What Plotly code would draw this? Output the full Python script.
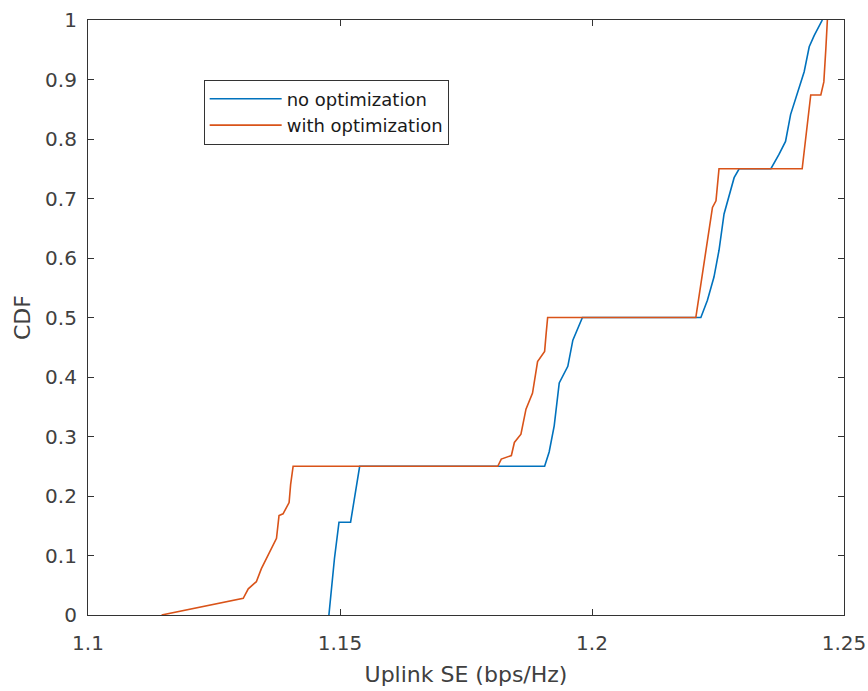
import plotly.graph_objects as go

# no optimization
x_no = [1.1478, 1.1489, 1.1498, 1.1521, 1.1539, 1.1906, 1.1915, 1.1925, 1.1935, 1.1952,
        1.1962, 1.1981, 1.2216, 1.2229, 1.2242, 1.2252, 1.2262, 1.2272, 1.2282, 1.2292,
        1.2355, 1.2371, 1.2384, 1.2394, 1.2404, 1.2421, 1.2431, 1.2441, 1.2457]
y_no = [0.0, 0.095, 0.156, 0.156, 0.25, 0.25, 0.274, 0.318, 0.39, 0.418,
        0.462, 0.5, 0.5, 0.529, 0.568, 0.613, 0.674, 0.707, 0.735, 0.75,
        0.75, 0.774, 0.796, 0.841, 0.869, 0.913, 0.955, 0.974, 1.0]

# with optimization
x_opt = [1.1146, 1.1308, 1.1318, 1.1334, 1.1344, 1.1374, 1.1379, 1.1387, 1.1399, 1.1402,
         1.1407, 1.1813, 1.1820, 1.1840, 1.1846, 1.1859, 1.1869, 1.1882, 1.1892, 1.1906,
         1.1909, 1.1912, 1.2206, 1.2223, 1.2229, 1.2239, 1.2246, 1.2252, 1.2417, 1.2424,
         1.2434, 1.2454, 1.2460, 1.2464, 1.2467]
y_opt = [0.0, 0.028, 0.044, 0.056, 0.078, 0.129, 0.167, 0.170, 0.189, 0.219,
         0.25, 0.25, 0.262, 0.268, 0.29, 0.304, 0.346, 0.373, 0.426, 0.443,
         0.473, 0.5, 0.5, 0.596, 0.624, 0.685, 0.696, 0.75, 0.75, 0.802,
         0.874, 0.874, 0.896, 0.952, 1.0]

x_ticks = [1.1, 1.15, 1.2, 1.25]
x_tick_labels = ["1.1", "1.15", "1.2", "1.25"]
y_ticks = [0, 0.1, 0.2, 0.3, 0.4, 0.5, 0.6, 0.7, 0.8, 0.9, 1]
y_tick_labels = ["0", "0.1", "0.2", "0.3", "0.4", "0.5", "0.6", "0.7", "0.8", "0.9", "1"]

FONT = "DejaVu Sans"
TXT = "#404040"

fig = go.Figure()
fig.add_trace(go.Scatter(x=x_no, y=y_no, mode="lines", name="no optimization",
                         line=dict(color="#0072BD", width=1.6)))
fig.add_trace(go.Scatter(x=x_opt, y=y_opt, mode="lines", name="with optimization",
                         line=dict(color="#D95319", width=1.6)))

axis_common = dict(showline=True, linecolor="#333333", linewidth=1.2, mirror="ticks",
                   ticks="inside", ticklen=6, tickcolor="#333333", tickwidth=1.2,
                   showgrid=False, zeroline=False, automargin=False,
                   tickfont=dict(family=FONT, size=20, color=TXT))

fig.update_layout(
    width=868, height=691,
    margin=dict(l=88, r=24, t=20, b=76),
    plot_bgcolor="white", paper_bgcolor="white",
    font=dict(family=FONT, color=TXT),
    xaxis=dict(range=[1.1, 1.25], tickvals=x_ticks, ticktext=x_tick_labels,
               ticklabelstandoff=10,
               title=dict(text="Uplink SE (bps/Hz)", font=dict(family=FONT, size=22, color=TXT), standoff=12),
               **axis_common),
    yaxis=dict(range=[0, 1], tickvals=y_ticks, ticktext=y_tick_labels,
               ticklabelstandoff=6,
               title=dict(text="CDF", font=dict(family=FONT, size=22, color=TXT), standoff=8),
               **axis_common),
    legend=dict(x=0.153, y=0.9, xanchor="left", yanchor="top",
                bgcolor="white", bordercolor="#333333", borderwidth=1,
                font=dict(family=FONT, size=18, color="#1a1a1a"), itemwidth=72, tracegroupgap=0),
    showlegend=True,
)

fig.write_html("out.html")
